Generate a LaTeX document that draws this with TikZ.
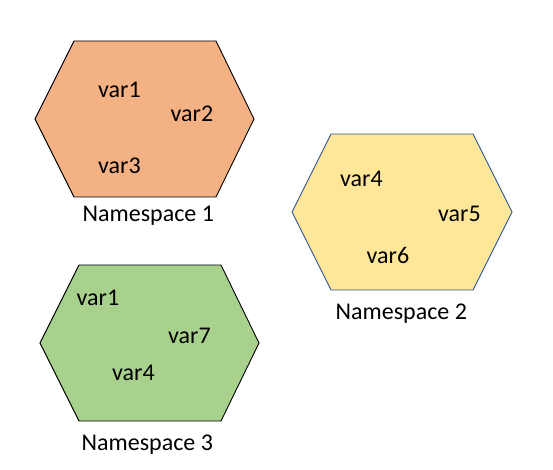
\documentclass[tikz,border=0pt]{standalone}
\usepackage{fontspec}
\setmainfont{Carlito}
\definecolor{hexorange}{HTML}{F4B183}
\definecolor{hexyellow}{HTML}{FFE699}
\definecolor{hexgreen}{HTML}{A9D18E}
\definecolor{hexblue}{HTML}{2F5597}
\begin{document}
\begin{tikzpicture}[x=1pt,y=-1pt,
  hexshape/.style={line width=0.9pt, line join=miter},
  varlabel/.style={anchor=base west, inner sep=0pt, font=\fontsize{24}{28}\selectfont},
  nslabel/.style={anchor=base west, inner sep=0pt, font=\fontsize{24}{28}\selectfont}]
\useasboundingbox (0,0) rectangle (553,470);
% Namespace 1
\draw[hexshape, fill=hexorange, draw=black]
  (35,119) -- (74,41) -- (216,41) -- (254,119) -- (216,197) -- (74,197) -- cycle;
\node[varlabel] (n1v1) at (98,98) {var1};
\node[varlabel] (n1v2) at (170.5,122) {var2};
\node[varlabel] (n1v3) at (98,174) {var3};
\node[nslabel] (ns1) at (82.5,221) {Namespace 1};
% Namespace 2
\draw[hexshape, fill=hexyellow, draw=hexblue]
  (292,212) -- (331,134) -- (473,134) -- (512,212) -- (473,290) -- (331,290) -- cycle;
\node[varlabel] (n2v4) at (340,186) {var4};
\node[varlabel] (n2v5) at (438,222) {var5};
\node[varlabel] (n2v6) at (366.5,263) {var6};
\node[nslabel] (ns2) at (335.5,319) {Namespace 2};
% Namespace 3
\draw[hexshape, fill=hexgreen, draw=black]
  (40,343) -- (79,265) -- (221,265) -- (259,343) -- (221,421) -- (79,421) -- cycle;
\node[varlabel] (n3v1) at (76.5,305) {var1};
\node[varlabel] (n3v7) at (168,343) {var7};
\node[varlabel] (n3v4) at (112,380) {var4};
\node[nslabel] (ns3) at (81.5,450) {Namespace 3};
\end{tikzpicture}
\end{document}
